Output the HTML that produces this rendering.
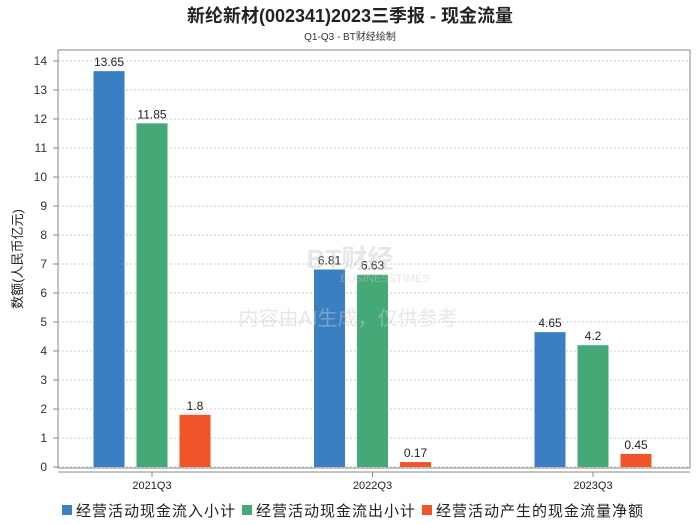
<!DOCTYPE html>
<html><head><meta charset="utf-8"><style>
body{margin:0;background:#fff;}
svg{display:block;font-family:"Liberation Sans","Noto Sans CJK SC",sans-serif;}
</style></head><body>
<svg id="chart" width="700" height="524">
<text x="350" y="22" text-anchor="middle" font-size="18" font-weight="bold" fill="#222">新纶新材(002341)2023三季报 - 现金流量</text>
<text x="350" y="40" text-anchor="middle" font-size="10" fill="#333">Q1-Q3 - BT财经绘制</text>
<g id="grid"></g>
<rect x="58" y="50" width="632" height="418" fill="none" stroke="#888"/>
<line x1="58" y1="472" x2="690" y2="472" stroke="#888"/>
<g id="bars"></g>
<text x="350" y="268" text-anchor="middle" font-size="26" font-weight="bold" fill="#ccc" opacity="0.45">BT财经</text>
<text x="385" y="282" text-anchor="middle" font-size="11" fill="#ccc" opacity="0.45">BUSINESSTIMES</text>
<text x="348" y="325" text-anchor="middle" font-size="20" fill="#ccc" opacity="0.45">内容由AI生成，仅供参考</text>
<text transform="translate(22,259) rotate(-90)" text-anchor="middle" font-size="13" fill="#222">数额(人民币亿元)</text>
<g>
<rect x="62" y="505" width="10" height="10" fill="#3a7fc1"/>
<text x="76" y="516" font-size="15" letter-spacing="1" fill="#222">经营活动现金流入小计</text>
<rect x="242" y="505" width="10" height="10" fill="#44a877"/>
<text x="256" y="516" font-size="15" letter-spacing="1" fill="#222">经营活动现金流出小计</text>
<rect x="422" y="505" width="10" height="10" fill="#f0552a"/>
<text x="436" y="516" font-size="15" letter-spacing="1" fill="#222">经营活动产生的现金流量净额</text>
</g>
</svg>
<script>
const categories = ["2021Q3","2022Q3","2023Q3"];
const inflow = [13.65, 6.81, 4.65];
const outflow = [11.85, 6.63, 4.2];
const netflow = [1.8, 0.17, 0.45];
const labelsInflow = ["13.65","6.81","4.65"];
const labelsOutflow = ["11.85","6.63","4.2"];
const labelsNet = ["1.8","0.17","0.45"];
const yTicks = [0,1,2,3,4,5,6,7,8,9,10,11,12,13,14];
const NS="http://www.w3.org/2000/svg";
function y(v){return 467 - v*29;}
function cx(i){return 152 + i*220.5;}
const grid=document.getElementById('grid'), bars=document.getElementById('bars');
function mk(tag,attrs,parent){const e=document.createElementNS(NS,tag);for(const k in attrs)e.setAttribute(k,attrs[k]);parent.appendChild(e);return e;}
yTicks.forEach(t=>{
  const l=mk('line',{x1:58,x2:690,y1:y(t),y2:y(t),stroke:'#ccc','stroke-dasharray':'2,2'},grid);
  
  
  const tk=mk('line',{x1:53,x2:58,y1:y(t),y2:y(t),stroke:'#888'},grid);
  
  
  const tx=mk('text',{x:47,y:y(t)+4,'text-anchor':'end','font-size':12,fill:'#333'},grid);
  tx.textContent=t;
  
  
});
const series=[[inflow,labelsInflow,'#3a7fc1',-43,'bar-inflow'],[outflow,labelsOutflow,'#44a877',0,'bar-outflow'],[netflow,labelsNet,'#f0552a',43,'bar-net']];
categories.forEach((c,i)=>{
  series.forEach(s=>{
    const v=s[0][i], x=cx(i)+s[3]-15.5;
    const r=mk('rect',{x:x,y:y(v),width:31,height:y(0)-y(v),fill:s[2]},bars);
    
    
    const t=mk('text',{x:x+15.5,y:y(v)-5,'text-anchor':'middle','font-size':12,fill:'#222'},bars);
    t.textContent=s[1][i];
    
    
  });
  const tk=mk('line',{x1:cx(i),x2:cx(i),y1:472,y2:477,stroke:'#888'},bars);
  
  
  const t=mk('text',{x:cx(i),y:489,'text-anchor':'middle','font-size':11,fill:'#222'},bars);
  t.textContent=c;
  
  
});
</script>
</body></html>
